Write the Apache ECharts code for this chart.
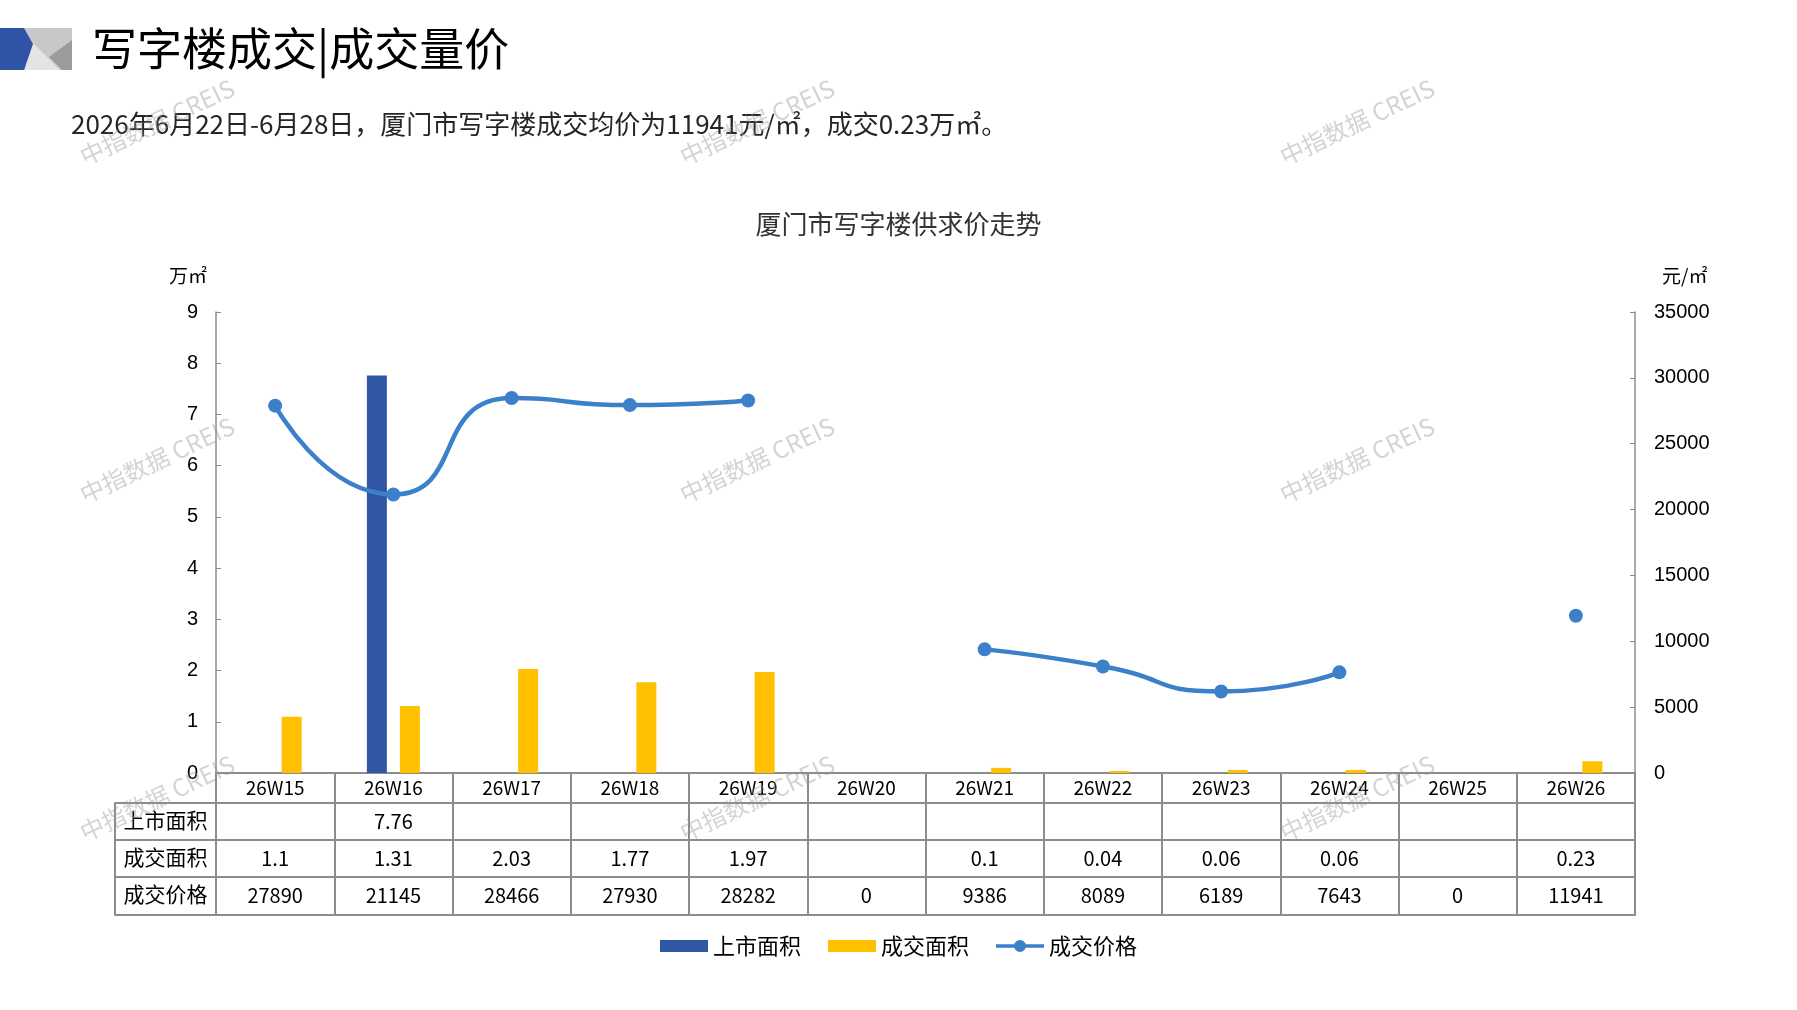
<!DOCTYPE html>
<html>
<head>
<meta charset="utf-8">
<title>厦门市写字楼供求价走势</title>
<script src="https://cdn.jsdelivr.net/npm/echarts@6/dist/echarts.min.js"></script>
<style>
  html, body { margin: 0; padding: 0; background: #fff; }
  #chart { width: 1797px; height: 1010px; }
</style>
</head>
<body>
<div id="chart"></div>
<script>
// weekly data
const weeks = ['26W15', '26W16', '26W17', '26W18', '26W19', '26W20', '26W21', '26W22', '26W23', '26W24', '26W25', '26W26'];
const rowNames = ['上市面积', '成交面积', '成交价格'];
const listedArea = [null, 7.76, null, null, null, null, null, null, null, null, null, null]; // 万㎡
const dealArea = [1.1, 1.31, 2.03, 1.77, 1.97, null, 0.1, 0.04, 0.06, 0.06, null, 0.23];   // 万㎡
// price: weeks without deals are gaps in the line, the table prints them as 0
const dealPrice = [27890, 21145, 28466, 27930, 28282, null, 9386, 8089, 6189, 7643, null, 11941]; // 元/㎡

const CJK = '"Noto Sans CJK SC", "Noto Sans", sans-serif';
const NUM = '"Liberation Sans", Arial, sans-serif';
const GRID_LINE = '#8c8c8c';
const BLUE = '#2F57A4';
const YELLOW = '#FFC000';
const LINE_BLUE = '#3D80CA';

const chart = echarts.init(document.getElementById('chart'));

// table rows under the plot: [values, text for empty cell]
const tableRows = [
  [listedArea, ''],
  [dealArea, ''],
  [dealPrice, '0']
];
const rowOffset = [30, 67, 104];
const rowHeight = [37, 37, 38];
const tableBottom = 142;

const lineStyle = { color: GRID_LINE, width: 2 };

const xAxes = [
  {
    type: 'category', gridIndex: 0, position: 'bottom', data: weeks,
    axisLine: { show: true, onZero: false, lineStyle: lineStyle },
    axisTick: { show: true, interval: 0, length: 29, lineStyle: lineStyle },
    axisLabel: { interval: 0, margin: 5, fontSize: 19, color: '#000', fontFamily: CJK }
  }
];
tableRows.forEach(function (row, i) {
  xAxes.push({
    type: 'category', gridIndex: 0, position: 'bottom', offset: rowOffset[i], data: weeks,
    axisLine: { show: true, onZero: false, lineStyle: lineStyle },
    axisTick: { show: true, interval: 0, length: rowHeight[i], lineStyle: lineStyle },
    axisLabel: {
      interval: 0, margin: 8, fontSize: 20, color: '#000', fontFamily: CJK,
      formatter: function (v, idx) {
        const val = row[0][idx];
        return val == null ? row[1] : String(val);
      }
    }
  });
});
xAxes.push({
  type: 'category', gridIndex: 0, position: 'bottom', offset: tableBottom, data: weeks,
  axisLine: { show: true, onZero: false, lineStyle: lineStyle },
  axisTick: { show: false }, axisLabel: { show: false }
});
// row header column
rowNames.forEach(function (name, i) {
  xAxes.push({
    type: 'category', gridIndex: 1, position: 'bottom', offset: rowOffset[i], data: [name],
    axisLine: { show: true, onZero: false, lineStyle: lineStyle },
    axisTick: { show: true, interval: 0, length: rowHeight[i], lineStyle: lineStyle },
    axisLabel: { interval: 0, margin: 7, fontSize: 21, color: '#000', fontFamily: CJK }
  });
});
xAxes.push({
  type: 'category', gridIndex: 1, position: 'bottom', offset: tableBottom, data: [''],
  axisLine: { show: true, onZero: false, lineStyle: lineStyle },
  axisTick: { show: false }, axisLabel: { show: false }
});

// watermark spots
const markX = [157, 757, 1357];
const markY = [122, 460, 798];
const watermarks = [];
markY.forEach(function (y) {
  markX.forEach(function (x) {
    watermarks.push({
      type: 'text', x: x, y: y, rotation: 0.44, z: 100, silent: true,
      style: {
        text: '中指数据 CREIS', fill: 'rgba(150,150,150,0.42)',
        fontSize: 24, fontFamily: CJK, align: 'center', verticalAlign: 'middle'
      }
    });
  });
});

const plainNumber = function (v) { return String(v); };

// legend icon for the price line: thick stroke with a dot in the middle (48 x 12 box),
// all sub-paths wound the same way so the dot stays filled
const lineDotIcon = 'path://M0 4.2H19V7.8H0Z M29 4.2H48V7.8H29Z M18 6a6 6 0 1 1 12 0a6 6 0 1 1 -12 0Z';

const option = {
  backgroundColor: '#fff',
  animation: false,
  title: [
    {
      text: '写字楼成交|成交量价', left: 92, top: 26, padding: 0,
      textStyle: { fontSize: 45, fontWeight: 'normal', color: '#000', fontFamily: CJK }
    },
    {
      text: '2026年6月22日-6月28日，厦门市写字楼成交均价为' + dealPrice[11] + '元/㎡，成交' + dealArea[11] + '万㎡。',
      left: 71, top: 111, padding: 0,
      textStyle: { fontSize: 26, fontWeight: 'normal', color: '#262626', fontFamily: CJK }
    },
    {
      text: '厦门市写字楼供求价走势', left: 'center', top: 211, padding: 0,
      textStyle: { fontSize: 26, fontWeight: 'normal', color: '#333', fontFamily: CJK }
    }
  ],
  legend: {
    top: 930, left: 'center', itemWidth: 48, itemHeight: 12, itemGap: 27,
    textStyle: { fontSize: 22, color: '#000', fontFamily: CJK },
    data: [
      { name: rowNames[0], icon: 'rect' },
      { name: rowNames[1], icon: 'rect' },
      { name: rowNames[2], icon: lineDotIcon }
    ]
  },
  grid: [
    { left: 216, right: 162, top: 312, bottom: 237, outerBoundsMode: 'none' },
    { left: 115, width: 101, top: 312, bottom: 237, outerBoundsMode: 'none' }
  ],
  xAxis: xAxes,
  yAxis: [
    {
      type: 'value', gridIndex: 0, position: 'left', min: 0, max: 9, interval: 1,
      name: '万㎡', nameLocation: 'end', nameGap: 27,
      nameTextStyle: { align: 'right', padding: [0, 9, 0, 0], fontSize: 19, color: '#000', fontFamily: CJK },
      axisLine: { show: true, lineStyle: { color: GRID_LINE, width: 1.5 } },
      axisTick: { show: true, inside: true, length: 5, lineStyle: { color: GRID_LINE } },
      axisLabel: { margin: 18, fontSize: 20, color: '#000', fontFamily: NUM },
      splitLine: { show: false }
    },
    {
      type: 'value', gridIndex: 0, position: 'right', min: 0, max: 35000, interval: 5000,
      name: '元/㎡', nameLocation: 'end', nameGap: 27,
      nameTextStyle: { align: 'left', padding: [0, 0, 0, 27], fontSize: 19, color: '#000', fontFamily: CJK },
      axisLine: { show: true, lineStyle: { color: GRID_LINE, width: 1.5 } },
      axisTick: { show: true, inside: true, length: 5, lineStyle: { color: GRID_LINE } },
      axisLabel: { margin: 19, fontSize: 20, color: '#000', fontFamily: NUM, formatter: plainNumber },
      splitLine: { show: false }
    },
    { type: 'value', gridIndex: 1, show: false }
  ],
  series: [
    {
      name: rowNames[0], type: 'bar', xAxisIndex: 0, yAxisIndex: 0,
      data: listedArea, barWidth: 20, barGap: '65%',
      itemStyle: { color: BLUE }
    },
    {
      name: rowNames[1], type: 'bar', xAxisIndex: 0, yAxisIndex: 0,
      data: dealArea, barWidth: 20, barGap: '65%',
      itemStyle: { color: YELLOW }
    },
    {
      name: rowNames[2], type: 'line', xAxisIndex: 0, yAxisIndex: 1,
      data: dealPrice, smooth: 0.6, connectNulls: false,
      symbol: 'circle', symbolSize: 14, showAllSymbol: true, z: 5,
      itemStyle: { color: LINE_BLUE },
      lineStyle: { color: LINE_BLUE, width: 4.5 }
    }
  ],
  graphic: [
    // header badge
    { type: 'polygon', shape: { points: [[23, 28], [72, 28], [72, 70], [23, 70]] }, style: { fill: '#c8c8c8' } },
    { type: 'polygon', shape: { points: [[30, 40], [60, 70], [25, 70]] }, style: { fill: '#e4e4e4' } },
    { type: 'polygon', shape: { points: [[72, 40], [49, 57], [62, 70], [72, 70]] }, style: { fill: '#9b9b9b' } },
    { type: 'polygon', shape: { points: [[0, 28], [24, 28], [33, 44], [24, 70], [0, 70]] }, style: { fill: '#2F54A5' } }
  ].concat(watermarks)
};

chart.setOption(option);
</script>
</body>
</html>
